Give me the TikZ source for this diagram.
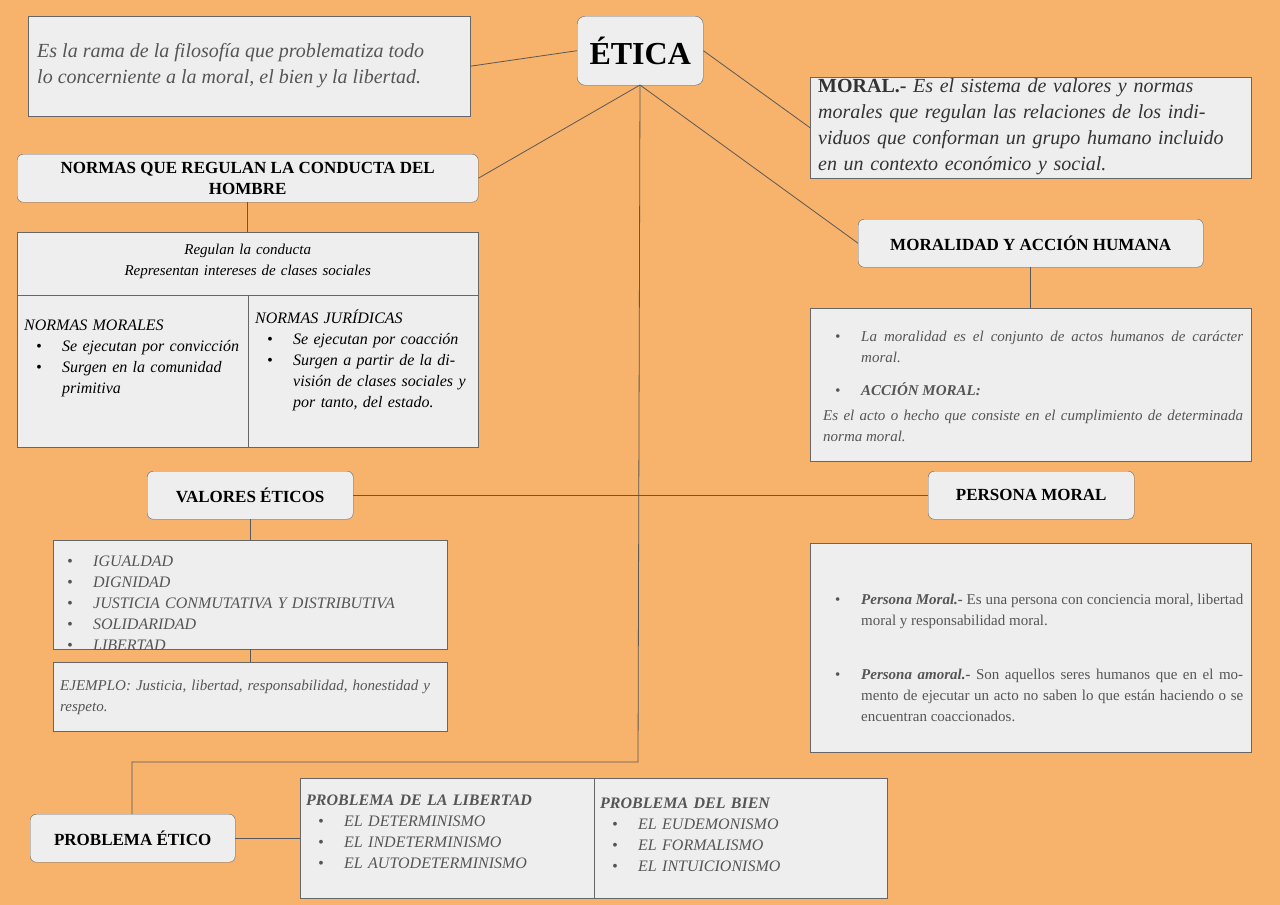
\documentclass[tikz,border=0pt]{standalone}
\usepackage{fontspec}
\setmainfont{Liberation Serif}
\usetikzlibrary{positioning}
\definecolor{bgorange}{HTML}{F7B26B}
\definecolor{boxgray}{HTML}{EEEEEE}
\definecolor{txtgray}{HTML}{555555}
\newcommand{\bitem}[1]{\par\noindent\hangindent=38pt\hangafter=1\hbox to 38pt{\hskip12pt\textbullet\hfil}#1\par}
\newcommand{\fs}[2]{\fontsize{#1}{#2}\selectfont}
\tikzset{
  box/.style={draw=black!60, fill=boxgray, anchor=north west, inner sep=0pt},
  title/.style={box, rounded corners=6pt, font=\bfseries\fs{17}{21}, align=center},
  body/.style={anchor=north west, inner sep=0pt, align=left, font=\itshape\fs{16}{21}},
  link/.style={draw=black!65, line width=0.8pt}
}
\begin{document}
\begin{tikzpicture}[x=1pt,y=-1pt]
\fill[bgorange] (0,0) rectangle (1280,905);
\useasboundingbox (0,0) rectangle (1280,905);
% boxes
\node[box, minimum width=442, minimum height=100] (def) at (28,16) {};
\node[box, rounded corners=8pt, minimum width=126, minimum height=69, font=\bfseries\fs{32}{36}] (etica) at (577,16) {ÉTICA};
\node[box, minimum width=441, minimum height=101] (moral) at (810,77) {};
\node[title, minimum width=461, minimum height=48] (normas) at (17,154) {NORMAS QUE REGULAN LA CONDUCTA DEL\\HOMBRE};
\node[box, minimum width=461, minimum height=215] (tabla) at (17,232) {};
\node[title, minimum width=345, minimum height=48] (moralidad) at (858,219) {MORALIDAD Y ACCIÓN HUMANA};
\node[box, minimum width=441, minimum height=153] (acto) at (810,308) {};
\node[title, minimum width=206, minimum height=48] (valores) at (147,471) {VALORES ÉTICOS};
\node[title, minimum width=206, minimum height=48] (persona) at (928,471) {PERSONA MORAL};
\node[box, minimum width=394, minimum height=109] (lista) at (53,540) {};
\node[box, minimum width=394, minimum height=69] (ejemplo) at (53,662) {};
\node[box, minimum width=441, minimum height=209] (personas) at (810,543) {};
\node[title, minimum width=205, minimum height=48] (problema) at (30,814) {PROBLEMA ÉTICO};
\node[box, minimum width=587, minimum height=120] (problemas) at (300,778) {};
% table rules
\draw[black!60] (17,295) -- (478,295);
\draw[black!60] (248,295) -- (248,447);
\draw[black!60] (594,778) -- (594,898);
% texts
\node[body, font=\itshape\fs{20}{26}, text=txtgray] (deftxt) at (37,43) {Es la rama de la filosofía que problematiza todo\\lo concerniente a la moral, el bien y la libertad.};
\node[body, font=\itshape\fs{20}{26}, text=black!80, text width=420] (moraltxt) at (818,78) {\textbf{\upshape MORAL.-} Es el sistema de valores y normas morales que regulan las relaciones de los individuos que conforman un grupo humano incluido en un contexto económico y social.};
\node[body, align=center, text width=461, font=\itshape\fs{15}{21}] (regulan) at (17,244) {Regulan la conducta\\Representan intereses de clases sociales};
\node[body, text width=215, font=\itshape\fs{16}{21}] (morales) at (24,320) {NORMAS MORALES\bitem{Se ejecutan por convicción}\bitem{Surgen en la comunidad primitiva}};
\node[body, text width=215, font=\itshape\fs{16}{21}] (juridicas) at (255,310) {NORMAS JURÍDICAS\bitem{Se ejecutan por coacción}\bitem{Surgen a partir de la división de clases sociales y por tanto, del estado.}};
\node[body, text width=420, align=justify, text=txtgray, font=\itshape\fs{15}{21}] (actotxt) at (823,320) {\bitem{La moralidad es el conjunto de actos humanos de carácter moral.}\vskip12pt\bitem{\textbf{ACCIÓN MORAL:}}\vskip4pt\noindent Es el acto o hecho que consiste en el cumplimiento de determinada norma moral.};
\node[body, text width=390, text=txtgray, font=\itshape\fs{16}{21}] (listatxt) at (55,545) {\bitem{IGUALDAD}\bitem{DIGNIDAD}\bitem{JUSTICIA CONMUTATIVA Y DISTRIBUTIVA}\bitem{SOLIDARIDAD}\bitem{LIBERTAD}};
\node[body, text width=380, text=txtgray, font=\itshape\fs{15}{21}] (ejtxt) at (60,680) {EJEMPLO: Justicia, libertad, responsabilidad, honestidad y respeto.};
\node[body, text width=420, align=justify, text=txtgray, font=\fs{15}{21}] (perstxt) at (823,583) {\bitem{\textbf{\itshape Persona Moral.-} Es una persona con conciencia moral, libertad moral y responsabilidad moral.}\vskip33pt\bitem{\textbf{\itshape Persona amoral.-} Son aquellos seres humanos que en el momento de ejecutar un acto no saben lo que están haciendo o se encuentran coaccionados.}};
\node[body, text width=285, text=txtgray, font=\itshape\fs{16}{21}] (libertad) at (306,795) {\textbf{PROBLEMA DE LA LIBERTAD}\bitem{EL DETERMINISMO}\bitem{EL INDETERMINISMO}\bitem{EL AUTODETERMINISMO}};
\node[body, text width=285, text=txtgray, font=\itshape\fs{16}{21}] (bien) at (600,798) {\textbf{PROBLEMA DEL BIEN}\bitem{EL EUDEMONISMO}\bitem{EL FORMALISMO}\bitem{EL INTUICIONISMO}};
% connectors
\coordinate (hub) at (640,85);
\coordinate (turn1) at (638,762);
\coordinate (turn2) at (132,762);
\draw[link] (etica.west) -- (def.east);
\draw[link] (etica.east) -- (moral.west);
\draw[link] (hub) -- (normas.east);
\draw[link] (hub) -- (moralidad.west);
\draw[link] (hub) -- (turn1) -- (turn2) -- (problema.north -| turn2);
\draw[link] (valores.east) -- (persona.west);
\draw[link] (normas.south) -- (tabla.north -| normas.south);
\draw[link] (moralidad.south -| acto.north) -- (acto.north);
\draw[link] (250,519) -- (250,540);
\draw[link] (250,649) -- (250,662);
\draw[link] (problema.east) -- (problemas.west);
\end{tikzpicture}
\end{document}
